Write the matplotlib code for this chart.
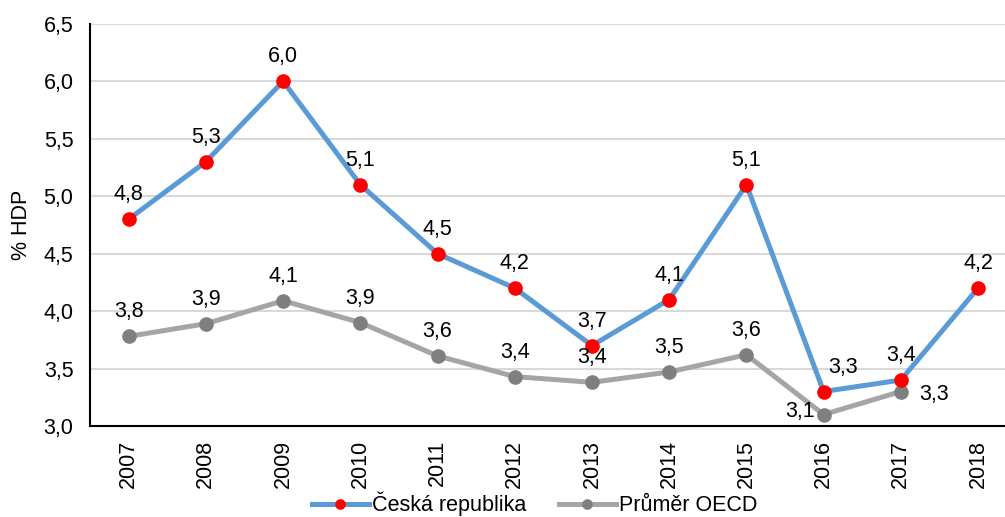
import matplotlib.pyplot as plt
from matplotlib.ticker import FuncFormatter

plt.rcParams['font.family'] = ['Liberation Sans', 'DejaVu Sans']

years = ['2007', '2008', '2009', '2010', '2011', '2012',
         '2013', '2014', '2015', '2016', '2017', '2018']
cz = [4.8, 5.3, 6.0, 5.1, 4.5, 4.2, 3.7, 4.1, 5.1, 3.3, 3.4, 4.2]
oecd = [3.78, 3.89, 4.09, 3.90, 3.61, 3.43, 3.38, 3.47, 3.62, 3.10, 3.30]

FS = 15.5


def fmt(v):
    return '{:.1f}'.format(v).replace('.', ',')


fig = plt.figure(figsize=(10.05, 5.17), dpi=100)
ax = fig.add_axes([0.0896, 0.176, 0.922, 0.778])

x = list(range(len(years)))
ax.plot(x, cz, color='#5B9BD5', lw=3.6, marker='o', ms=9.5,
        mfc='#FF0000', mec='#FF0000', label='Česká republika', zorder=3)
ax.plot(x[:len(oecd)], oecd, color='#A5A5A5', lw=3.6, marker='o', ms=9.5,
        mfc='#7F7F7F', mec='#7F7F7F', label='Průměr OECD', zorder=2)

for i, v in enumerate(cz):
    dx = 14 if i == 9 else 0
    ax.annotate(fmt(v), (i, v), xytext=(dx, 10), textcoords='offset points',
                ha='center', va='bottom', fontsize=FS)

for i, v in enumerate(oecd):
    if i == 9:
        ax.annotate(fmt(v), (i, v), xytext=(-6, 2), textcoords='offset points',
                    ha='right', va='center', fontsize=FS)
    elif i == 10:
        ax.annotate(fmt(v), (i, v), xytext=(13, -2), textcoords='offset points',
                    ha='left', va='center', fontsize=FS)
    else:
        ax.annotate(fmt(v), (i, v), xytext=(0, 10), textcoords='offset points',
                    ha='center', va='bottom', fontsize=FS)

ax.set_xlim(-0.5, len(years) - 0.5)
ax.set_ylim(3.0, 6.5)
ax.set_yticks([3.0, 3.5, 4.0, 4.5, 5.0, 5.5, 6.0, 6.5])
ax.yaxis.set_major_formatter(FuncFormatter(lambda v, p: fmt(v)))
ax.set_xticks(x)
ax.set_xticklabels(years, rotation=90)
ax.tick_params(axis='both', length=0, labelsize=FS)
ax.tick_params(axis='y', pad=12)
ax.tick_params(axis='x', pad=10)
ax.grid(axis='y', color='#D9D9D9', lw=1.5)
ax.set_axisbelow(True)
for s in ['top', 'right']:
    ax.spines[s].set_visible(False)
for s in ['left', 'bottom']:
    ax.spines[s].set_linewidth(1.5)
ax.set_ylabel('% HDP', fontsize=FS, labelpad=8)

fig.legend(*ax.get_legend_handles_labels(), loc='center',
           bbox_to_anchor=(0.532, 1 - 504 / 517), ncol=2, frameon=False,
           fontsize=FS, handlelength=2.65, columnspacing=1.5,
           handletextpad=0.15, borderpad=0, markerscale=0.7)

fig.savefig('out.png', dpi=100)
